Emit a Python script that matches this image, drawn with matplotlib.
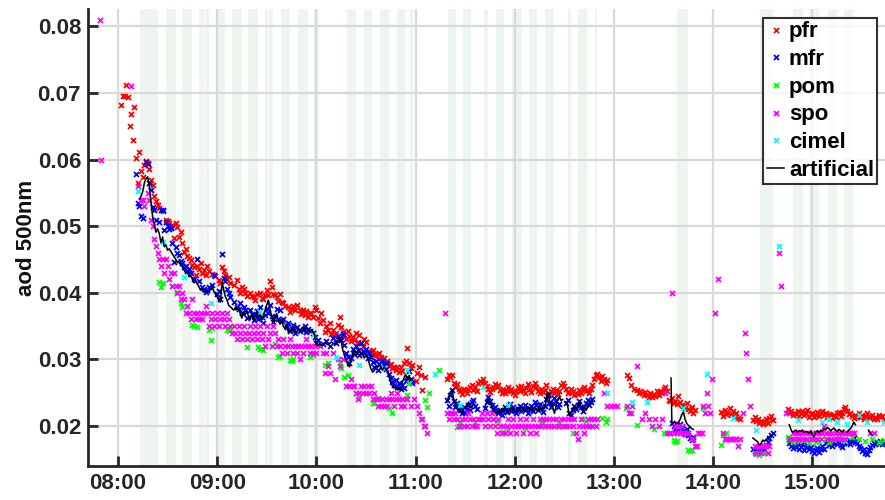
import numpy as np
import matplotlib
matplotlib.use("Agg")
import matplotlib.pyplot as plt
from matplotlib.ticker import FuncFormatter, MultipleLocator

# ---- data: (minutes after 08:00, AOD x 1e-3) ----
pfr = [(2,68.2),(3,69.6),(4,69.5),(5,71.2),(6,69.4),(7,65.0),(8,66.8),(9,62.9),(10,67.9),(11,60.2),(12,56.5),(13,61.1),(14,58.3),(15,57.4),(16,59.2),(17,59.8),(18,59.5),(19,58.6),(20,57.0),(21,56.2),(22,54.5),(23,53.8),(24,53.2),
(25,52.7),(27,52.3),(29,51.0),(30,50.8),(31,50.5),(32,49.9),(33,50.2),(34,48.3),(35,50.5),(36,49.9),(37,48.4),(38,49.1),(39,47.5),(40,46.1),(41,46.6),(42,45.5),(43,45.2),(44,44.9),(45,44.2),(46,43.8),(47,42.7),(48,44.0),(49,43.5),(50,44.5),(51,43.0),(52,43.4),(53,42.6),(54,44.0),(55,43.3),(57,42.8),(59,42.5),(61,41.9),(62,41.4),
(63,43.9),(64,43.2),(65,42.7),(66,42.1),(67,42.4),(68,41.5),(70,41.2),(72,41.9),(73,40.6),(74,40.0),(75,40.9),(76,40.5),(77,40.0),(78,39.5),(80,40.0),(81,39.5),(82,39.4),(83,38.9),(84,39.8),(86,40.0),(87,39.2),(88,39.0),(89,39.6),(90,40.4),(91,39.6),(92,41.8),(93,40.8),(94,39.8),(95,39.7),(96,39.4),(97,38.8),(98,39.8),(99,38.6),(100,38.4),
(101,38.0),(103,37.9),(104,37.1),(105,37.6),(106,38.0),(107,37.4),(108,38.1),(110,37.4),(111,36.8),(112,37.4),(113,36.7),(114,37.2),(115,36.4),(116,37.0),(117,36.9),(118,36.4),(119,37.8),(120,37.4),(121,36.2),(122,35.5),(123,37.0),(124,35.9),(125,34.1),(126,35.0),(127,34.4),(128,35.4),(129,33.8),(130,34.4),(131,33.7),(132,33.9),(133,35.2),(134,36.4),(135,34.8),
(136,34.1),(137,33.7),(138,33.0),(139,34.2),(140,33.5),(141,32.8),(142,33.4),(143,32.9),(144,33.9),(145,32.6),(146,33.6),(147,32.5),(148,31.9),(149,33.0),(150,32.6),(151,31.2),(152,31.1),(153,30.9),(154,31.4),(155,30.8),(156,30.6),(157,30.1),(158,30.9),(159,30.4),(160,29.9),(161,30.2),(162,29.4),(163,29.8),(164,29.0),(165,29.3),(166,28.7),(167,28.9),(168,28.4),(169,28.9),(170,28.1),(171,28.8),(172,28.3),(173,29.4),(174,29.8),(175,31.7),(176,29.5),(177,28.7),(178,29.2),
(180,26.8),(181,28.0),(182,28.9),(183,27.6),(184,25.4),(186,27.4),
(199,27.0),(200,27.6),(201,27.4),(202,27.7),(203,26.5),(204,25.8),(205,26.3),(206,25.5),(207,25.2),(208,24.8),(209,25.6),(210,25.2),(211,24.9),(212,25.5),(213,25.9),(214,26.1),(215,25.4),(216,25.9),(217,25.3),(218,26.5),(219,26.8),(220,26.4),(221,27.0),(222,26.5),(223,26.0),(224,25.6),(225,25.1),(226,25.5),(227,25.8),(228,26.3),(229,25.9),(230,26.2),(231,25.4),(232,25.0),(233,25.6),(234,24.9),(235,25.3),(236,25.9),(237,25.2),(238,25.6),(239,25.0),(240,24.7),(241,25.3),(242,25.8),(243,25.2),(244,26.0),(245,25.4),(246,24.9),(247,25.7),(248,26.3),(249,25.6),(250,25.1),(251,26.0),(252,26.4),(253,25.9),(254,25.3),(255,24.9),(256,25.6),(257,25.1),(258,25.4),(259,26.2),(260,25.0),(261,24.6),(262,25.2),(263,25.6),(264,25.0),(265,25.4),(266,24.8),(267,25.3),(268,26.1),(269,26.5),(270,26.0),(271,25.5),(272,24.9),(273,25.1),(274,25.6),(275,25.3),(276,24.7),(277,25.0),(278,24.8),(279,25.4),(280,24.9),(281,25.6),(282,25.9),(283,25.2),(284,25.4),(285,25.0),(286,25.5),(287,26.2),(288,27.0),(289,27.6),(290,27.8),(291,27.3),(292,26.8),(293,27.5),(294,27.0),(295,26.4),(296,26.9),
(308,27.7),(309,27.2),(310,26.2),(312,25.6),(314,25.4),(315,24.9),(316,25.2),(317,25.0),(318,24.6),(319,25.1),(320,24.7),(321,24.4),(322,24.9),(323,24.3),(324,24.8),(325,24.5),(326,25.2),(327,24.6),(328,25.3),(329,24.9),(330,25.5),(331,25.8),(332,25.2),
(333,23.9),(334,23.7),(335,24.2),(336,23.4),(337,23.8),(338,23.3),(339,24.5),(340,23.6),(341,23.2),(342,23.0),(343,22.7),(344,23.4),(345,22.6),(346,22.2),(347,22.8),(348,22.0),(349,22.4),
(365,22.1),(366,21.5),(367,22.4),(368,21.8),(369,22.0),(370,22.7),(371,21.7),(372,22.2),(373,21.4),(374,21.9),(375,21.2),(376,21.0),
(384,20.9),(385,21.4),(386,20.7),(387,21.1),(388,20.5),(389,20.8),(390,20.3),(391,20.6),(392,21.0),(393,20.4),(394,21.2),(395,21.5),(396,20.9),
(405,22.6),(406,21.9),(407,22.2),(408,21.6),(409,22.0),(410,21.8),(411,22.3),(412,21.5),(413,21.9),(414,22.2),(415,21.7),(416,21.9),(417,22.4),(418,21.4),(419,21.8),(420,22.0),(421,21.3),(422,21.7),(423,22.1),(424,21.5),(425,21.9),(426,22.3),(427,21.6),(428,22.0),(429,21.4),(430,21.8),(431,21.6),(432,21.2),(433,21.7),(434,21.4),(435,21.9),(436,22.1),(437,21.5),(438,21.9),(439,22.5),(440,22.9),(441,22.3),(442,21.8),(443,22.0),(444,21.5),(445,21.2),(446,21.7),(447,21.4),(448,21.9),(449,21.3),(450,21.6),(451,21.0),(452,21.5),(453,21.9),(454,21.4),(455,21.2),(456,21.6),(457,21.0),(458,21.4),(459,21.1),(460,21.7),(461,21.3),(462,21.5),(463,21.0)]

mfr = [(11,57.8),(12,53.5),(13,53.0),(14,51.5),(15,51.2),(17,59.6),(18,59.4),(19,56.5),(20,55.4),(21,52.9),(22,52.4),(23,51.0),(25,50.6),(26,52.4),(27,52.5),(28,49.4),(29,50.6),(30,50.0),(31,49.6),(32,49.8),(33,47.5),(34,44.6),(35,46.8),(36,46.0),(37,45.6),(38,44.8),(39,44.5),(40,43.8),(41,44.0),(42,43.3),(43,43.6),(44,42.9),(46,42.0),(48,45.0),(49,41.8),(51,40.9),(52,40.5),(53,40.1),(54,40.4),(55,40.8),(57,41.2),(58,42.7),(60,39.8),(61,40.2),(62,39.0),(63,45.8),(64,42.2),(65,41.8),(66,40.5),(67,40.0),(68,39.3),(70,38.6),(72,37.9),(73,37.6),(74,38.4),(75,36.9),(76,37.9),(77,37.4),(78,36.2),(80,37.4),(81,36.8),(82,35.9),(83,36.6),(84,37.3),(85,36.0),(86,37.9),(87,36.4),(88,35.5),(89,36.6),(90,37.6),(91,37.0),(92,38.2),(93,36.5),(94,35.6),(95,36.3),(96,37.5),(97,36.1),(98,37.4),(99,35.7),(100,36.0),(102,34.9),(103,35.5),(104,34.2),(105,34.6),(106,35.2),(107,34.0),(108,34.8),(110,34.3),(112,34.4),(113,35.0),(114,34.1),(115,34.6),(116,34.2),(118,34.0),(119,33.4),(120,32.5),(121,32.9),(124,32.3),(126,32.7),(128,32.0),(130,33.2),(132,32.5),(133,33.5),(134,33.0),(135,32.9),(136,33.8),(137,32.2),(138,31.0),(139,30.4),(140,29.5),(141,30.2),(142,31.6),(143,30.8),(144,32.0),(145,31.4),(146,30.6),(147,32.4),(148,31.2),(149,30.9),(150,31.5),(151,30.2),(152,31.0),(153,30.4),(154,29.6),(155,28.8),(156,29.7),(157,28.4),(158,29.3),(159,28.9),(160,29.8),(161,29.1),(162,28.6),(163,29.4),(164,27.8),(165,27.2),(166,26.6),(167,26.2),(168,26.9),(169,25.8),(170,26.4),(171,25.5),(172,26.1),(173,25.7),(174,26.8),(175,27.3),(176,28.2),(177,27.0),(178,26.5),
(199,23.9),(200,23.0),(201,24.6),(202,25.4),(203,23.8),(204,22.9),(205,23.4),(206,22.6),(207,22.4),(208,22.0),(209,22.8),(210,21.9),(211,22.5),(212,23.1),(213,22.4),(214,23.6),(215,23.9),(216,23.0),(217,22.6),
(222,22.7),(223,23.6),(224,24.4),(225,23.8),(226,23.2),(227,22.5),(228,22.9),(229,22.2),(230,21.9),(231,22.4),(232,21.7),(233,22.3),(234,22.9),(235,22.1),(236,22.6),(237,23.3),(238,22.2),(239,22.8),(240,22.4),(241,21.9),(242,22.6),(243,23.0),(244,22.3),(245,22.7),(246,23.2),(247,22.5),(248,22.0),(249,22.6),(250,23.0),(251,22.2),(252,23.6),(253,23.1),(254,22.4),(255,23.3),(256,22.7),(257,22.1),(258,23.0),(259,24.1),(260,24.6),(261,23.4),(262,22.8),(263,23.5),(264,24.2),(265,23.7),(266,22.9),(267,23.3),
(271,23.5),(272,23.9),(273,21.9),(274,21.6),(275,22.4),(276,23.0),(277,22.6),(278,23.2),(279,23.8),(280,22.9),(281,22.3),(282,22.8),(283,23.4),(284,23.9),(285,23.2),(286,23.6),(287,24.0),
(335,20.4),(336,20.0),(337,19.6),(338,20.1),(339,19.4),(340,20.3),(341,19.8),(342,19.2),(343,18.8),(344,19.5),(345,18.6),(346,18.2),(347,17.9),(348,18.4),
(384,16.6),(385,16.2),(386,16.4),(387,16.0),(388,16.5),(389,16.1),(390,16.3),(391,16.6),(392,17.2),(393,17.6),(394,18.2),(395,18.6),(396,19.0),
(406,17.4),(407,17.0),(408,16.7),(409,17.2),(410,16.9),(411,17.5),(412,16.6),(413,16.9),(414,17.3),(415,16.4),(416,16.8),(417,17.1),(418,16.5),(419,16.9),(420,16.2),(421,15.9),(422,16.4),(423,16.7),(424,16.1),(425,16.5),(426,17.0),(427,16.6),(428,17.4),(429,17.8),(430,17.2),(431,17.5),(432,17.0),(433,17.4),(434,17.7),(435,17.3),(436,17.6),(437,17.2),(438,16.9),(439,17.4),(440,17.7),(441,17.5),(442,17.9),(443,17.3),(444,17.8),(445,18.2),(446,17.6),(447,17.4),(448,17.0),(449,16.7),(450,16.2),(451,16.6),(452,16.0),(453,15.8),(454,16.4),(455,16.9),(456,17.2),(457,17.5),(458,17.3),(459,17.6),(460,17.4),(461,17.7),(462,17.3),(463,17.5)]

pom = [(25,41.6),(26,40.9),(27,41.4),(36,40.1),(38,38.5),(39,37.9),(45,35.2),(46,35.0),(48,34.9),(55,34.4),(56,32.9),(57,34.7),(66,34.4),(67,34.2),(68,34.5),(78,31.9),(85,31.9),(86,31.6),(88,31.4),(95,32.3),(97,30.4),(98,30.5),(104,29.9),(105,29.7),(106,30.1),(116,30.4),(118,30.6),(125,29.2),(127,29.5),(134,29.5),(135,28.7),(137,27.4),(139,27.6),(144,25.0),(146,24.4),(154,23.5),(155,23.4),(157,24.2),(164,22.7),(166,22.0),(175,24.7),(176,26.5),(186,23.9),(187,22.9),(188,25.0),(194,28.4),
(205,19.9),(207,20.5),(216,20.6),(227,21.0),(229,20.8),(233,19.1),(236,19.4),(246,19.7),(256,20.5),(257,20.4),(267,20.4),(270,20.0),(275,19.0),(281,21.0),(283,20.7),(293,21.2),(295,20.6),(296,21.0),
(307,22.7),(314,20.2),(324,19.6),(330,19.0),(336,17.9),(337,17.6),(338,17.8),(345,16.4),(346,16.2),(347,16.4),(354,22.7),(365,17.2),(366,18.6),(368,18.9),(385,16.0),(386,15.8),(388,15.7),(390,16.0),(405,18.3),(406,17.9),(408,17.6),(410,18.0),(412,17.7),(416,17.9),(418,17.4),(420,18.1),(422,17.6),(424,17.8),(428,18.0),(430,17.6),(433,17.9),(436,18.2),(440,17.8),(444,18.3),(448,18.0),(452,17.7),(456,18.1),(460,17.6),(463,17.9)]

spo = [(-11,81),(-10.5,60),(8,71),(12,56),(14,54),(15,54),(16,53),(18,55),(19,54),(20,51),(21,50),(22,48),(23,47),(24,46),(25,45),(26,44),(27,45),(28,43),(29,45),(30,44),(31,42),(32,43),(33,41),(34,43),(35,41),(36,40),(37,41),(38,39),(39,40),(40,39),(41,37),(42,38),(43,37),(44,36),(45,39),(46,37),(47,36),(48,37),(49,36),(50,37),(51,36),(52,37),(53,38),(54,37),(55,35),(56,36),(57,37),(58,35),(59,36),(60,37),(61,35),(62,36),(63,37),(64,36),(65,35),(66,37),(67,36),(68,35),(69,34),(70,35),(71,34),(72,33),(73,35),(74,34),(75,33),(76,35),(77,34),(78,33),(79,34),(80,35),(81,33),(82,34),(83,35),(84,33),(85,34),(86,35),(87,33),(88,34),(89,32),(90,35),(91,33),(92,34),(93,32),(94,35),(95,34),(96,32),(97,33),(98,32),(99,31),(100,33),(101,32),(102,31),(103,32),(104,33),(105,32),(106,31),(107,32),(108,31),(109,32),(110,30),(111,32),(112,31),(113,32),(114,33),(115,32),(116,31),(117,32),(118,31),(119,32),(120,31),(122,32),(124,31),(125,28),(126,31),(127,29),(128,28),(130,31),(131,27),(133,30),(134,29),(136,30),(138,26),(140,26),(141,27),(142,26),(143,26),(144,25),(145,24),(146,25),(147,26),(148,25),(149,26),(150,25),(151,26),(152,25),(153,26),(154,24),(155,25),(156,24),(157,23),(158,24),(159,23),(160,24),(161,23),(162,24),(163,23),(164,24),(165,25),(166,24),(167,23),(168,24),(169,25),(170,24),(171,23),(172,24),(173,23),(174,24),(175,24),(177,23),(179,24),(181,23),(182,22),(183,21),(184,21),(185,20),(186,20),(187,19),
(198,37),(199,22),(200,21),(201,22),(202,22),(203,21),(204,22),(205,21),(206,20),(207,20),(208,21),(209,20),(210,21),(211,20),(212,22),(213,21),(214,20),(215,21),(216,20),(217,20),(218,21),(219,21),(220,22),(221,21),(222,20),(223,22),(224,21),(225,20),(226,22),(227,21),(228,20),(229,19),(230,21),(231,20),(232,19),(233,20),(234,19),(235,20),(236,21),(237,19),(238,20),(239,21),(240,20),(241,19),(242,20),(243,21),(244,20),(245,19),(246,20),(247,21),(248,20),(249,19),(250,20),(251,21),(252,20),(253,19),(254,20),(255,21),(256,20),(257,21),(258,20),(259,21),(260,20),(261,21),(262,20),(263,21),(264,20),(265,21),(266,20),(267,20),(268,21),(269,20),(270,21),(271,20),(272,21),(273,20),(274,21),(275,20),(276,21),(277,19),(278,18),(279,20),(280,21),(281,20),(282,19),(283,20),(284,21),(285,20),(286,21),(287,20),(288,21),(289,20),(290,21),
(294,25),(296,23),(298,23),(300,23),(302,23),(308,23),(309,22),(310,22),(311,23),(314,29),(317,21),(319,22),(321,21),(323,20),(325,21),(327,20),(329,21),(331,25),(332,19),(333,19),(334,19),(335,40),(336,19),(337,20),(338,19),(339,20),(340,19),(341,20),(342,19),(343,19),(344,19),(345,19),(347,18),(348,18),(349,17),(350,17),(351,19),(352,19),(353,19),(354,23),(355,22),(356,25),(357,23),(358,22),(359,27),(361,37),(363,42),(366,19),(367,18),(368,18),(369,18),(370,18),(371,18),(372,18),(373,18),(374,18),(375,17),(376,18),(378,22),(379,34),(380,31),(381,27),(382,23),(385,17),(386,16),(387,17),(388,17),(389,16),(390,17),(391,17),(392,17),(393,16),(394,17),(400,46),(401,41),(404,22),(406,18),(407,18),(408,19),(409,18),(410,19),(411,18),(412,19),(413,18),(414,19),(415,18),(416,19),(417,18),(418,19),(419,18),(420,19),(421,18),(422,19),(423,18),(424,19),(425,18),(426,19),(427,20),(428,19),(429,18),(430,19),(431,18),(432,19),(433,18),(434,19),(435,18),(436,19),(437,18),(438,19),(439,18),(440,19),(441,19),(442,19),(443,19),(444,19),(445,19),(455,19),(457,19)]

cimel = [(12,55.3),(27,47.6),(40,42.4),(56,38.5),(86,37.1),(118,33.7),(132,30.4),(146,29.2),(161,28.7),(175,28.4),(192,27.8),(207,23.2),(221,25.9),(236,23.2),(296,25.0),(311,23.6),(320,23.6),(342,22.7),(356,27.8),(372,21.2),(386,19.4),(400,47.0),(411,20.9),(426,20.6),(430,21.0),(435,20.6),(441,20.3),(448,21.6),(453,20.6),(463,20.6)]

artificial = [(13,54.0),(14,54.5),(15,55.2),(16,56.5),(17,57.2),(18,57.4),(19,55.9),(20,53.5),(21,51.4),(22,50.2),(23,49.1),(24,49.6),(25,48.9),(26,47.5),(27,48.4),(28,46.9),(29,47.2),(30,46.4),(31,46.6),(33,45.8),(34,45.4),(35,45.0),(36,44.5),(37,44.8),(38,44.1),(39,43.9),(40,43.4),(41,43.0),(42,43.2),(43,42.4),(44,42.6),(46,41.5),(47,41.7),(49,40.9),(50,40.4),(51,40.6),(52,40.1),(53,40.3),(55,40.1),(57,40.9),(58,40.2),(60,39.4),(61,38.9),(62,38.6),(63,41.6),(64,40.4),(65,39.4),(66,38.9),(67,38.1),(68,37.9),(70,37.4),(71,37.8),(72,37.4),(73,37.9),(74,36.8),(75,36.2),(76,37.1),(77,36.7),(78,37.3),(79,36.4),(80,36.0),(81,36.8),(82,35.9),(83,36.5),(84,37.2),(85,36.3),(86,36.7),(87,35.9),(88,36.6),(89,37.4),(90,38.2),(91,38.9),(92,37.5),(93,36.4),(94,35.5),(95,36.3),(96,36.9),(97,35.8),(98,35.3),(99,35.9),(100,35.0),(101,34.6),(102,35.3),(103,34.1),(104,34.5),(105,34.1),(106,34.8),(107,34.3),(108,34.0),(109,34.6),(110,34.2),(111,34.6),(112,34.9),(113,34.3),(114,34.7),(115,34.4),(116,34.1),(117,34.5),(118,34.2),(119,33.6),(120,32.2),(121,32.0),(122,32.4),(123,32.1),(125,32.5),(127,32.2),(129,32.6),(131,32.3),(133,32.9),(134,33.4),(135,32.8),(136,31.4),(137,30.6),(138,29.9),(139,29.2),(140,28.9),(141,29.9),(142,31.0),(143,31.4),(144,30.6),(145,30.9),(146,31.4),(147,30.7),(148,30.9),(149,30.2),(150,30.7),(151,30.4),(152,29.4),(153,28.6),(154,28.1),(155,28.3),(156,29.0),(157,28.8),(158,29.1),(159,28.8),(160,28.4),(161,28.9),(162,28.5),(163,28.1),(164,27.4),(165,26.5),(166,26.0),(167,25.7),(168,25.9),(169,25.4),(170,25.6),(171,25.4),(172,26.6),(173,27.2),(174,27.7),(175,27.0),(176,27.5),(177,26.9),
(188,None),
(199,23.6),(200,24.4),(201,25.0),(202,25.4),(203,24.1),(204,23.2),(205,22.8),(206,22.4),(207,22.1),(208,21.9),(209,22.5),(210,22.8),(211,23.0),(212,23.6),(213,23.2),(214,22.8),(215,23.3),
(218,None),
(222,22.9),(223,23.6),(224,24.2),(225,23.5),(226,23.0),(227,22.4),(228,22.1),(229,21.9),(230,22.3),(231,22.0),(232,22.6),(233,22.3),(234,22.9),(235,22.4),(236,22.0),(237,22.5),(238,22.9),(239,22.4),(240,22.0),(241,22.3),(242,22.8),(243,22.4),(244,22.9),(245,22.5),(246,22.1),(247,22.6),(248,22.9),(249,22.3),(250,22.7),(251,22.4),(252,22.9),(253,22.5),(254,22.2),(255,23.0),(256,22.4),(257,22.8),(258,22.6),(259,23.8),(260,25.0),(261,23.8),(262,23.5),(263,22.8),(264,21.9),(265,23.0),(266,24.0),(267,24.4),(268,23.8),(269,24.0),
(270,None),
(271,23.6),(272,23.0),(273,21.6),(274,22.0),(275,22.5),(276,23.0),(277,22.6),(278,22.9),(279,23.6),(280,22.9),(281,22.4),(282,23.0),(283,22.4),(284,22.8),(285,23.3),(286,23.6),(287,23.5),
(300,None),
(334.5,27.2),(335,20.5),(336,20.5),(337,20.6),(338,20.4),(339,20.6),(340,21.0),(341,21.7),(342,22.1),(343,21.0),(344,20.4),(345,20.1),(346,19.9),(347,19.6),(348,19.5),
(360,None),
(384,18.2),(385,18.0),(386,17.8),(387,17.6),(388,17.1),(389,17.4),(390,17.9),(391,17.7),(392,18.0),(393,18.2),(394,18.4),(395,18.6),
(400,None),
(406,20.2),(407,19.5),(408,19.1),(409,19.2),(410,19.4),(411,19.1),(412,19.3),(413,19.2),(414,19.4),(415,19.0),(416,19.2),(417,19.1),(418,18.9),(419,19.3),(420,18.7),(421,18.4),(422,19.1),(423,19.3),(424,19.0),(425,19.4),(426,19.2),(427,19.6),(428,19.4),(429,19.8),(430,19.6),(431,19.3),(432,19.5),(433,19.7),(434,19.4),(435,19.2),(436,19.5),(437,19.3),(438,19.1),(439,19.4),
(440,None),
(441,19.1),(442,19.4),(443,19.6),(444,20.0),(445,20.6),(446,20.2),
(450,None),
(454,19.4),(455,19.0),(456,18.6)]

# cloud-flag periods (start, end) in minutes after 08:00
cloud_flags = [(13.3,24.2),(29.0,35.1),(38.7,44.8),(49.0,52.0),(52.6,55.0),(59.3,64.7),(68.9,75.0),(78.6,84.7),(88.9,90.7),(91.3,93.7),(98.6,104.0),(108.9,114.9),(118.5,121.6),(138.5,143.9),(148.8,153.6),(158.5,163.9),(168.7,173.6),(176.6,178.4),(199.6,204.4),(208.7,213.5),(221.4,223.8),(228.6,233.5),(238.3,244.3),(248.6,253.4),(258.2,263.7),(272.2,274.0),(278.2,283.6),(288.5,289.7),(338.1,344.7),(388.3,396.1),(408.2,414.3),(417.9,424.0),(429.4,434.9),(439.1,444.5)]

series = [("pfr", pfr, "#ff0000"), ("mfr", mfr, "#0000ff"), ("pom", pom, "#00ff00"),
          ("spo", spo, "#ff00ff"), ("cimel", cimel, "#00ffff")]

def to_hours(m):
    return 8.0 + np.asarray(m, dtype=float) / 60.0

def to_aod(v):
    return np.array([np.nan if x is None else x for x in v], dtype=float) / 1000.0

plt.rcParams['font.family'] = ['Liberation Sans', 'DejaVu Sans']
fig = plt.figure(figsize=(8.85, 5.0), dpi=100)
ax = fig.add_axes([88/885, 34/500, 1 - 88/885, 457/500])

for s, e in cloud_flags:
    ax.axvspan(to_hours(s), to_hours(e), color="#eef4ee", lw=0, zorder=0)

ax.grid(True, color="#d9d9d9", lw=1.6, zorder=1)
ax.set_axisbelow(True)

for name, pts, col in series:
    t, v = zip(*pts)
    ax.plot(to_hours(t), to_aod(v), ls="none", marker="x", ms=3.6, mew=1.3,
            color=col, label=name, zorder=3)
t, v = zip(*artificial)
ax.plot(to_hours(t), to_aod(v), color="black", lw=1.1, label="artificial", zorder=4)

ax.set_xlim(to_hours(-18.1), to_hours(463.9))
ax.set_ylim(0.014, 0.0826)
ax.xaxis.set_major_locator(MultipleLocator(1.0))
ax.xaxis.set_major_formatter(FuncFormatter(lambda x, p: "%02d:00" % int(round(x))))
ax.yaxis.set_major_locator(MultipleLocator(0.01))
ax.yaxis.set_major_formatter(FuncFormatter(lambda y, p: "%.2f" % y))

for sp in ["top", "right"]:
    ax.spines[sp].set_visible(False)
for sp in ["left", "bottom"]:
    ax.spines[sp].set_linewidth(2.0)
    ax.spines[sp].set_color("#262626")
ax.tick_params(direction="in", length=7, width=2, color="#262626",
               labelsize=16, labelcolor="#262626", pad=5)
for lab in ax.get_xticklabels() + ax.get_yticklabels():
    lab.set_fontweight("bold")
ax.set_ylabel("aod 500nm", fontsize=16, fontweight="bold", color="#111111")
ax.yaxis.set_label_coords(-0.064, 0.5)

leg = ax.legend(loc="upper right", bbox_to_anchor=(0.996, 0.99), fontsize=16,
                frameon=True, fancybox=False, handlelength=0.8, handletextpad=0.2,
                borderpad=0.15, labelspacing=0.3, markerscale=1.0, borderaxespad=0.2)
leg.get_frame().set_edgecolor("black")
leg.get_frame().set_linewidth(1.5)
for txt in leg.get_texts():
    txt.set_fontweight("bold")

fig.savefig("out.png", dpi=100)
